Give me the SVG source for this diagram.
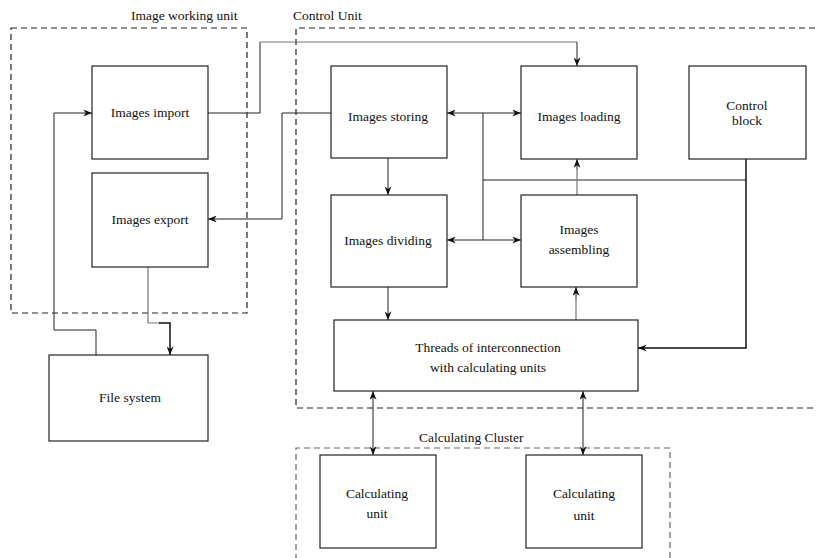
<svg xmlns="http://www.w3.org/2000/svg" width="816" height="558" viewBox="0 0 816 558" font-family="'Liberation Serif', 'DejaVu Serif', serif">
  <defs>
    <marker id="arr" viewBox="0 0 10 8" refX="10" refY="4" markerWidth="9" markerHeight="7" markerUnits="userSpaceOnUse" orient="auto-start-reverse">
      <path d="M0,0 L10,4 L0,8 L3,4 Z" fill="#111"/>
    </marker>
  </defs>
  <style>
    .box { fill: #fff; stroke: #222; stroke-width: 1.2; }
    .grp { fill: none; stroke: #222; stroke-width: 1.2; stroke-dasharray: 6 4; }
    .grp2 { fill: none; stroke: #666; stroke-width: 1.2; stroke-dasharray: 6 4; }
    .ln { fill: none; stroke: #222; stroke-width: 1; }
    .lg { fill: none; stroke: #777; stroke-width: 1.2; }
    .lb { fill: none; stroke: #111; stroke-width: 1.5; }
    text { font-family: 'Liberation Serif', 'DejaVu Serif', serif; font-size: 13.5px; fill: #111; text-anchor: middle; }
    .cap { text-anchor: start; }
  </style>
  <rect width="816" height="558" fill="#fff"/>

  <!-- grouping frames -->
  <g id="frames">
    <rect class="grp" x="11" y="28" width="236" height="285"/>
    <text class="cap" x="131" y="20">Image working unit</text>
    <path class="grp" d="M825,28 H296 V408 H825"/>
    <text class="cap" x="293" y="20">Control Unit</text>
    <path class="grp2" d="M296,570 V448 H670 V570"/>
    <text class="cap" x="419" y="442">Calculating Cluster</text>
  </g>

  <!-- connectors -->
  <g id="connectors">
    <path class="ln" d="M208,113 H260 V42"/>
    <path class="lg" d="M260,42 H577"/>
    <path class="ln" d="M577,42 V66" marker-end="url(#arr)"/>
    <path class="ln" d="M331,113 H282 V219 H208" marker-end="url(#arr)"/>
    <path class="ln" d="M447,113 H521" marker-start="url(#arr)" marker-end="url(#arr)"/>
    <path class="ln" d="M447,240 H521" marker-start="url(#arr)" marker-end="url(#arr)"/>
    <path class="ln" d="M483,113 V240"/>
    <path class="ln" d="M483,180 H746"/>
    <path class="lb" d="M746,159 V348 H638" marker-end="url(#arr)"/>
    <path class="ln" d="M388,158 V195" marker-end="url(#arr)"/>
    <path class="lg" d="M577,195 V170"/>
    <path class="ln" d="M577,170 V159" marker-end="url(#arr)"/>
    <path class="ln" d="M388,287 V320" marker-end="url(#arr)"/>
    <path class="lg" d="M576,320 V300"/>
    <path class="ln" d="M576,300 V287" marker-end="url(#arr)"/>
    <path class="ln" d="M373,391 V455" marker-start="url(#arr)" marker-end="url(#arr)"/>
    <path class="ln" d="M583,391 V455" marker-start="url(#arr)" marker-end="url(#arr)"/>
    <path class="lg" d="M148,267 V323 H160"/>
    <path class="lb" d="M159,323 H170 V355" marker-end="url(#arr)"/>
    <path class="ln" d="M96,355 V330 H54 V113 H92" marker-end="url(#arr)"/>
  </g>

  <!-- nodes -->
  <g id="images-import">
    <rect class="box" x="92" y="66" width="116" height="93"/>
    <text x="150" y="117">Images import</text>
  </g>
  <g id="images-export">
    <rect class="box" x="92" y="173" width="116" height="94"/>
    <text x="150" y="224">Images export</text>
  </g>
  <g id="images-storing">
    <rect class="box" x="331" y="66" width="116" height="92"/>
    <text x="388" y="121">Images storing</text>
  </g>
  <g id="images-loading">
    <rect class="box" x="521" y="66" width="116" height="93"/>
    <text x="579" y="121">Images loading</text>
  </g>
  <g id="control-block">
    <rect class="box" x="689" y="66" width="117" height="93"/>
    <text x="747" y="110">Control</text>
    <text x="747" y="125">block</text>
  </g>
  <g id="images-dividing">
    <rect class="box" x="331" y="195" width="116" height="92"/>
    <text x="388" y="245">Images dividing</text>
  </g>
  <g id="images-assembling">
    <rect class="box" x="521" y="195" width="116" height="92"/>
    <text x="579" y="234">Images</text>
    <text x="579" y="254">assembling</text>
  </g>
  <g id="threads">
    <rect class="box" x="334" y="320" width="304" height="71"/>
    <text x="488" y="352">Threads of interconnection</text>
    <text x="488" y="372">with calculating units</text>
  </g>
  <g id="file-system">
    <rect class="box" x="49" y="355" width="159" height="86"/>
    <text x="130" y="402">File system</text>
  </g>
  <g id="calc-unit-1">
    <rect class="box" x="320" y="455" width="116" height="93"/>
    <text x="377" y="498">Calculating</text>
    <text x="377" y="518">unit</text>
  </g>
  <g id="calc-unit-2">
    <rect class="box" x="526" y="455" width="116" height="93"/>
    <text x="584" y="498">Calculating</text>
    <text x="584" y="520">unit</text>
  </g>
</svg>
